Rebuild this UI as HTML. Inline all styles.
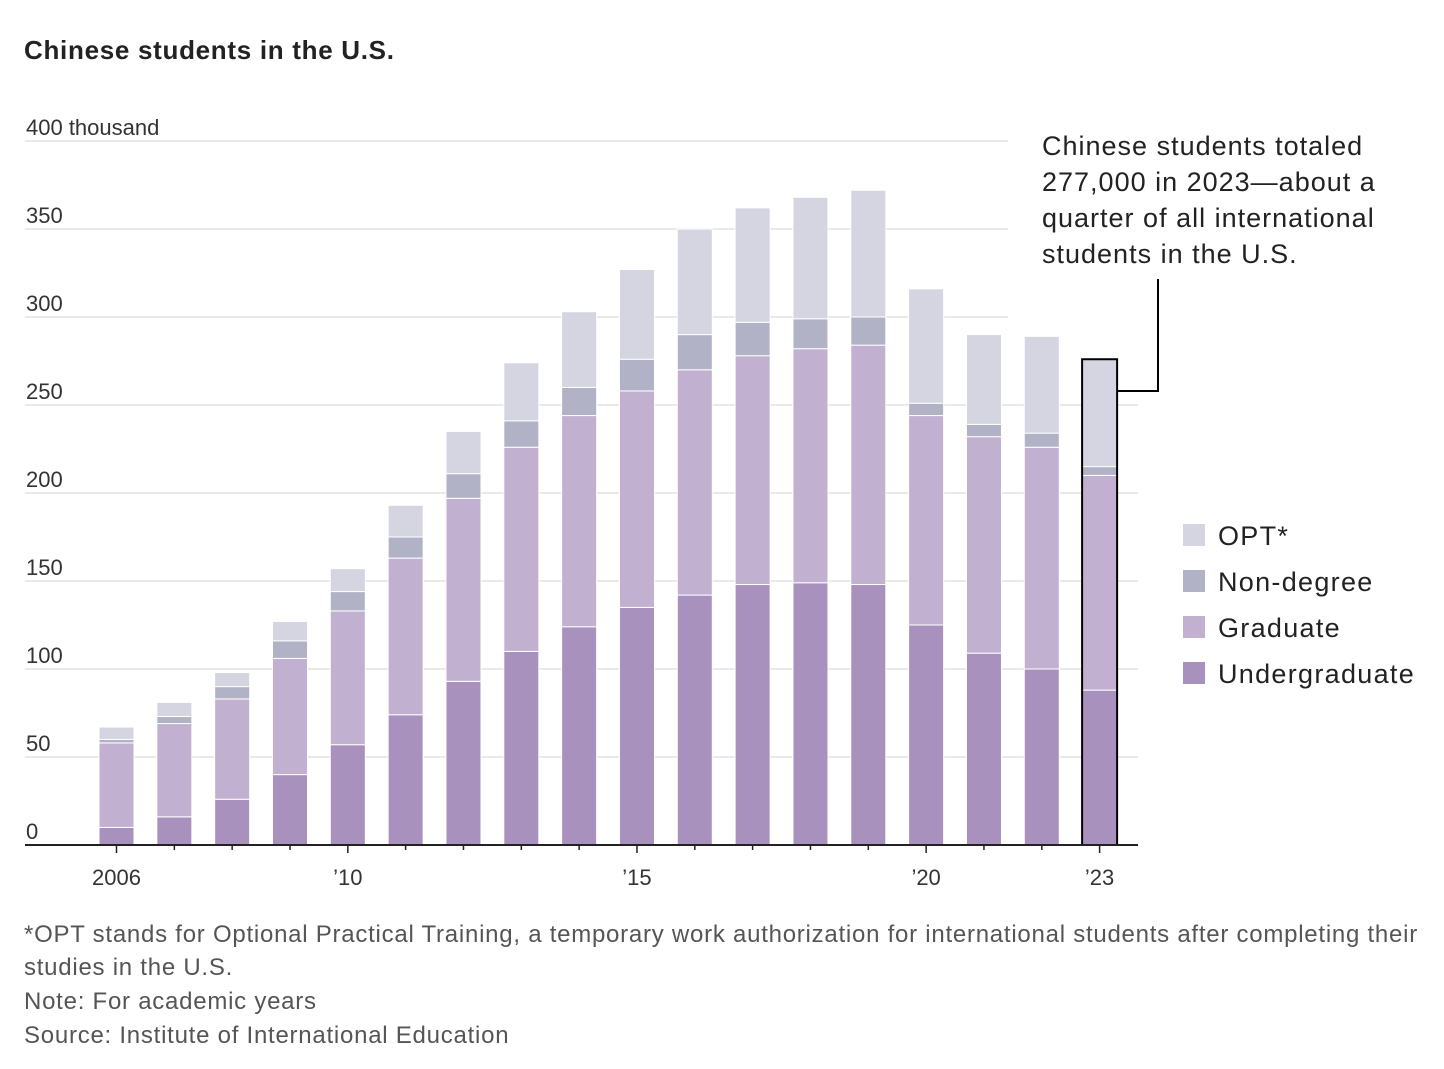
<!DOCTYPE html>
<html><head><meta charset="utf-8">
<style>
body{margin:0;background:#fff;font-family:"Liberation Sans",sans-serif;}
svg text{font-family:"Liberation Sans",sans-serif;}
</style></head>
<body>
<svg id="chart" width="1444" height="1064" xmlns="http://www.w3.org/2000/svg">
<text x="24" y="59" font-size="26" font-weight="bold" fill="#222" letter-spacing="0.7">Chinese students in the U.S.</text>
<g id="grid"></g>
<g id="bars"></g>
<g id="axis"></g>
<g font-size="27" fill="#222" letter-spacing="1">
<text x="1042" y="155">Chinese students totaled</text>
<text x="1042" y="191">277,000 in 2023—about a</text>
<text x="1042" y="227">quarter of all international</text>
<text x="1042" y="263">students in the U.S.</text>
</g>
<polyline points="1118,391 1158,391 1158,279" fill="none" stroke="#000" stroke-width="2"/>
<g id="legend"></g>
<g font-size="24" fill="#555" letter-spacing="0.75">
<text x="24" y="942">*OPT stands for Optional Practical Training, a temporary work authorization for international students after completing their</text>
<text x="24" y="975">studies in the U.S.</text>
<text x="24" y="1009">Note: For academic years</text>
<text x="24" y="1043">Source: Institute of International Education</text>
</g>
</svg>
<script>
const years=[2006,2007,2008,2009,2010,2011,2012,2013,2014,2015,2016,2017,2018,2019,2020,2021,2022,2023];
const undergrad=[10,16,26,40,57,74,93,110,124,135,142,148,149,148,125,109,100,88];
const graduate=[48,53,57,66,76,89,104,116,120,123,128,130,133,136,119,123,126,122];
const nondegree=[2,4,7,10,11,12,14,15,16,18,20,19,17,16,7,7,8,5];
const opt=[7,8,8,11,13,18,24,33,43,51,60,65,69,72,65,51,55,61];
const yTicks=[0,50,100,150,200,250,300,350,400];
const xLabels={2006:"2006",2010:"’10",2015:"’15",2020:"’20",2023:"’23"};
const seriesNames=["Undergraduate","Graduate","Non-degree","OPT*"];
const colors=["#a891bc","#c1b0cf","#b1b2c6","#d4d5e0"];
const NS="http://www.w3.org/2000/svg";
const y=v=>845-v*1.76;
const x=i=>99+i*57.83;
const bw=35;
function mk(tag,attrs,parent){const e=document.createElementNS(NS,tag);for(const k in attrs)e.setAttribute(k,attrs[k]);parent.appendChild(e);return e;}
const grid=document.getElementById('grid');
yTicks.forEach(t=>{
  const l=mk('line',{x1:25,x2:t>=300?1008:1138,y1:y(t),y2:y(t),stroke:'#e3e3e3','stroke-width':1.5},grid);
  
  
  const tx=mk('text',{x:26,y:y(t)-6,'font-size':22,fill:'#333'},grid);
  tx.textContent=t===400?'400 thousand':String(t);
  
  
});
const bars=document.getElementById('bars');
const series=[undergrad,graduate,nondegree,opt];
years.forEach((yr,i)=>{
  let base=0;
  series.forEach((s,k)=>{
    const v=s[i];
    const r=mk('rect',{x:x(i),y:y(base+v),width:bw,height:v*1.76,fill:colors[k],stroke:'#fff','stroke-width':1},bars);
    
    
    base+=v;
  });
  if(yr===2023){
    const b=mk('rect',{x:x(i),y:y(base),width:bw,height:base*1.76,fill:'none',stroke:'#000','stroke-width':2},bars);
    
    
  }
});
const axis=document.getElementById('axis');
const bl=mk('line',{x1:25,x2:1138,y1:845,y2:845,stroke:'#222','stroke-width':2},axis);


years.forEach((yr,i)=>{
  const cx=x(i)+bw/2;
  const tk=mk('line',{x1:cx,x2:cx,y1:845,y2:xLabels[yr]?853:850,stroke:'#222','stroke-width':1.5},axis);
  
  
  if(xLabels[yr]){
    const t=mk('text',{x:cx,y:885,'font-size':22,fill:'#333','text-anchor':'middle'},axis);
    t.textContent=xLabels[yr];
    
    
  }
});
const legend=document.getElementById('legend');
[3,2,1,0].forEach((k,j)=>{
  const yy=524+j*46;
  const sw=mk('rect',{x:1183,y:yy,width:22,height:22,fill:colors[k]},legend);
  
  
  const t=mk('text',{x:1218,y:yy+21,'font-size':27,fill:'#222','letter-spacing':1.3},legend);
  t.textContent=seriesNames[k];
  
  
});
</script>
</body></html>
